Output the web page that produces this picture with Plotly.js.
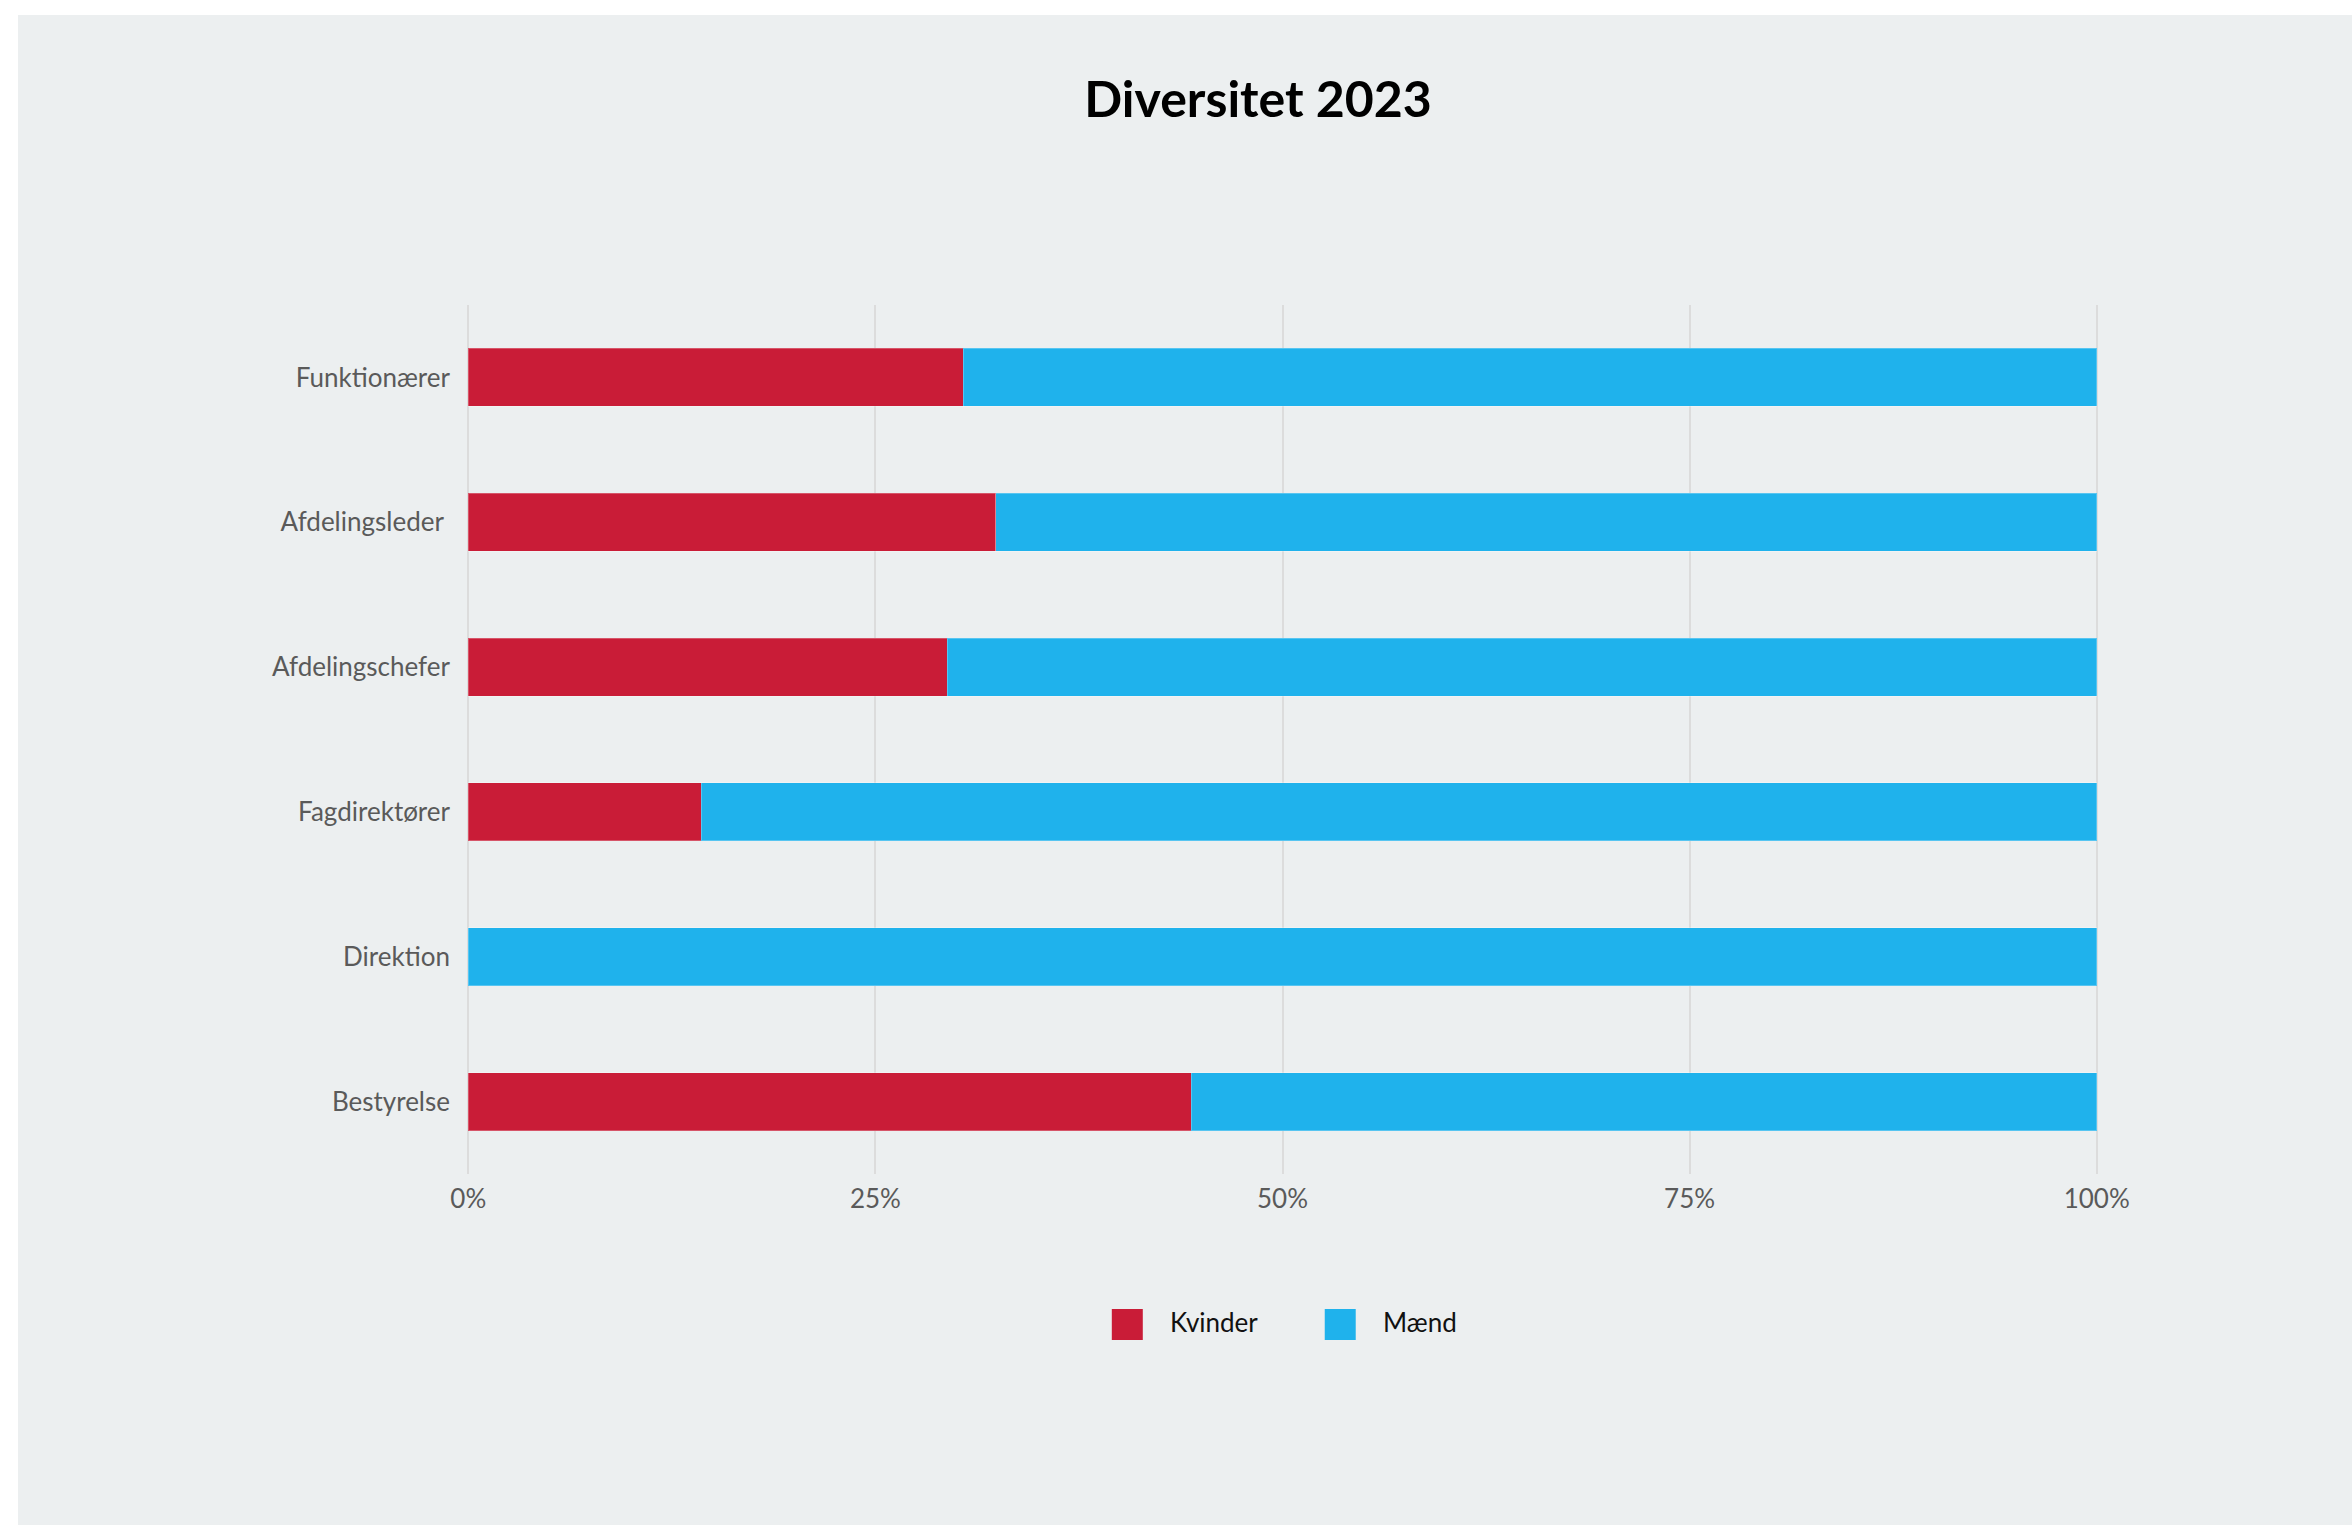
<!DOCTYPE html>
<html>
<head>
<meta charset="utf-8">
<script src="https://cdn.plot.ly/plotly-3.0.1.min.js"></script>
<style>
  html, body { margin: 0; padding: 0; background: #ffffff; }
  #chart { position: absolute; left: 18px; top: 15px; width: 2334px; height: 1510px; }
</style>
</head>
<body>
<div id="chart"></div>
<script>
// Categories, top to bottom
const categories = ["Funktionærer", "Afdelingsleder ", "Afdelingschefer", "Fagdirektører", "Direktion", "Bestyrelse"];
// Share of women (%) per category
const kvinder = [30.4, 32.4, 29.4, 14.3, 0, 44.4];
// Share of men (%) per category
const maend = [69.6, 67.6, 70.6, 85.7, 100, 55.6];
const seriesNames = ["Kvinder", "Mænd"];
const seriesColors = ["#C91C37", "#1FB2EC"];
const xTickVals = [0, 25, 50, 75, 100];
const xTickText = ["0%", "25%", "50%", "75%", "100%"];

const W = 2334, H = 1510;
const M = { l: 449, r: 253.5, t: 290, b: 351 };
const PW = W - M.l - M.r, PH = H - M.t - M.b;
const px2x = p => (p - M.l) / PW;
const py2y = p => 1 - (p - M.t) / PH;
const FONT = "Lato, 'Noto Sans', sans-serif";

const seriesValues = [kvinder, maend];
const traces = seriesNames.map((name, i) => ({
  type: "bar",
  orientation: "h",
  name: name,
  x: seriesValues[i],
  y: categories,
  marker: { color: seriesColors[i], line: { width: 1, color: "rgba(255,255,255,0.25)" } },
  showlegend: false,
  hoverinfo: "name+x"
}));

// Custom legend (large square swatches)
const legendX = [1094, 1307];
const shapes = seriesNames.map((n, i) => ({
  type: "rect", xref: "paper", yref: "paper",
  x0: px2x(legendX[i]), x1: px2x(legendX[i] + 31),
  y0: py2y(1294), y1: py2y(1325),
  fillcolor: seriesColors[i], line: { width: 0 }
}));
const annotations = seriesNames.map((n, i) => ({
  xref: "paper", yref: "paper",
  x: px2x(legendX[i] + 56), y: py2y(1307),
  xanchor: "left", yanchor: "middle",
  text: n, showarrow: false,
  font: { family: FONT, size: 26, color: "#111111" }
}));

const layout = {
  width: W, height: H,
  paper_bgcolor: "#ECEFF0",
  plot_bgcolor: "#ECEFF0",
  margin: M,
  barmode: "stack",
  bargap: 0.6,
  showlegend: false,
  title: {
    text: "<b>Diversitet 2023</b>",
    x: 1240 / W, xanchor: "center",
    y: 1 - 84 / H, yanchor: "middle", yref: "container",
    font: { family: FONT, size: 50, color: "#000000" }
  },
  xaxis: {
    range: [-0.08, 100.08],
    tickvals: xTickVals, ticktext: xTickText,
    showgrid: true, gridcolor: "#DCDCDC", gridwidth: 2,
    zeroline: false, showline: false, ticks: "",
    ticklabelstandoff: 7,
    tickfont: { family: FONT, size: 26, color: "#5A5A5A" },
    fixedrange: true
  },
  yaxis: {
    type: "category",
    autorange: "reversed",
    showgrid: false, zeroline: false, showline: false, ticks: "",
    ticklabelstandoff: 16,
    tickfont: { family: FONT, size: 26, color: "#5A5A5A" },
    fixedrange: true
  },
  shapes: shapes,
  annotations: annotations
};

Plotly.newPlot("chart", traces, layout, { displayModeBar: false });
</script>
</body>
</html>
